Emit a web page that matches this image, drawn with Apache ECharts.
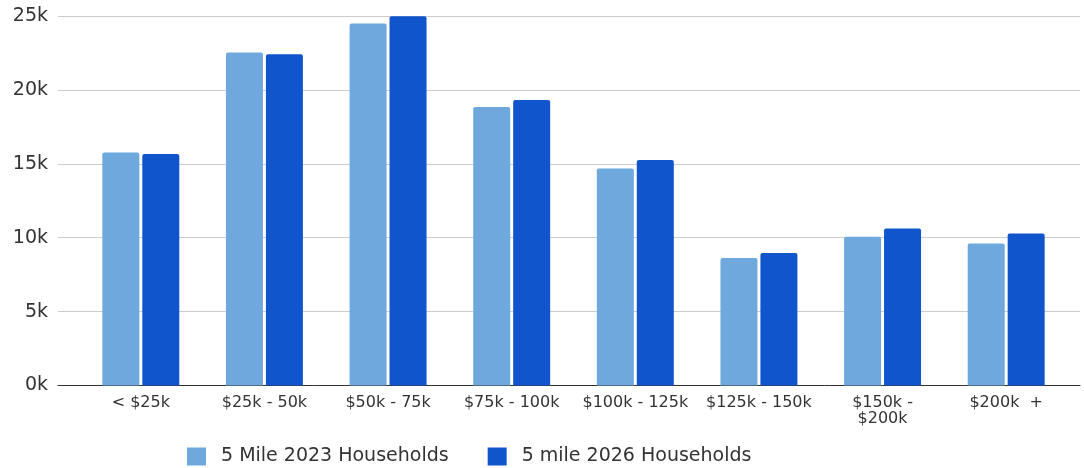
<!DOCTYPE html>
<html>
<head>
<meta charset="utf-8">
<script src="https://cdn.jsdelivr.net/npm/echarts@6/dist/echarts.min.js"></script>
<style>html,body{margin:0;padding:0;background:#fff}#c{width:1084px;height:468px}</style>
</head>
<body>
<div id="c"></div>
<script>
var categories = ['< $25k', '$25k - 50k', '$50k - 75k', '$75k - 100k', '$100k - 125k', '$125k - 150k', '$150k -\n$200k', '$200k  +'];
var households2023 = [15770, 22530, 24490, 18850, 14680, 8620, 10060, 9610];
var households2026 = [15670, 22410, 24990, 19320, 15250, 8960, 10630, 10290];
var yTicks = [0, 5000, 10000, 15000, 20000, 25000];

var font = 'DejaVu Sans';
var chart = echarts.init(document.getElementById('c'));
chart.setOption({
  animation: false,
  textStyle: {fontFamily: font},
  grid: [
    {left: 58, right: 4, top: 16, bottom: 82.5},
    {left: 79, right: 16, top: 16, bottom: 82.5}
  ],
  legend: {
    left: 187, top: 447, padding: 0,
    itemWidth: 19, itemHeight: 18, itemGap: 39,
    icon: 'rect',
    textStyle: {fontFamily: font, fontSize: 19, color: '#333', padding: [0, 0, 0, 10]},
    data: ['5 Mile 2023 Households', '5 mile 2026 Households']
  },
  xAxis: [
    {gridIndex: 0, type: 'value', min: 0, max: 1, show: true,
     axisLine: {show: true, lineStyle: {color: '#333', width: 1}},
     axisTick: {show: false}, axisLabel: {show: false}, splitLine: {show: false}},
    {gridIndex: 1, type: 'category', data: categories,
     axisLine: {show: false}, axisTick: {show: false},
     axisLabel: {fontFamily: font, fontSize: 16, color: '#333', margin: 9, interval: 0, lineHeight: 16}}
  ],
  yAxis: [
    {gridIndex: 0, type: 'value', min: yTicks[0], max: yTicks[yTicks.length - 1], interval: 5000,
     axisLine: {show: false}, axisTick: {show: false},
     axisLabel: {fontFamily: font, fontSize: 19, color: '#333', margin: 10,
       formatter: function (v) { return (v / 1000) + 'k'; }},
     splitLine: {lineStyle: {color: '#cccccc', width: 1}}},
    {gridIndex: 1, type: 'value', min: yTicks[0], max: yTicks[yTicks.length - 1], interval: 5000,
     show: false, splitLine: {show: false}}
  ],
  series: [
    {name: '5 Mile 2023 Households', type: 'bar', xAxisIndex: 1, yAxisIndex: 1,
     data: households2023, barWidth: 37, barGap: '8%',
     itemStyle: {color: '#6fa8dc', borderRadius: [2, 2, 0, 0]}},
    {name: '5 mile 2026 Households', type: 'bar', xAxisIndex: 1, yAxisIndex: 1,
     data: households2026, barWidth: 37, barGap: '8%',
     itemStyle: {color: '#1155cc', borderRadius: [2, 2, 0, 0]}}
  ]
});
</script>
</body>
</html>
